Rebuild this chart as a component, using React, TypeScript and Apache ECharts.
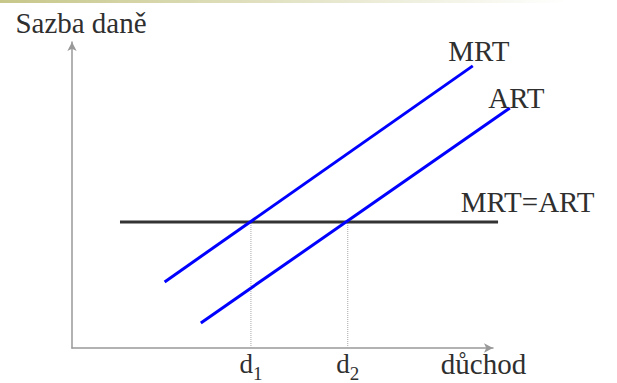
import React, { useEffect, useRef } from "react";
import * as echarts from "echarts";

// ---- data (axis units: x 0..100, y 0..100) ----
const seriesNames = ["MRT", "ART", "MRT=ART"];
const mrtData: number[][] = [
  [22.0, 21.6],
  [95.2, 92.2],
];
const artData: number[][] = [
  [30.6, 8.2],
  [104.0, 78.4],
];
const flatLevel = 41.2;
const flatRange = [11.4, 101.2];
const dValues = [42.5, 65.5];
const dTickLabels = ["d1", "d2"];
const xAxisName = "důchod";
const yAxisName = "Sazba daně";

const FONT = "'Liberation Serif', 'Times New Roman', Times, serif";
const TEXT = "#2f2f2f";

// visible axis: 0..100 over 421px; data grid extends further right on same scale
const X_MAX = 100;
const X_EXT = 110;
const PX_PER_UNIT = 421 / X_MAX;

export default function App() {
  const ref = useRef<HTMLDivElement>(null);

  useEffect(() => {
    if (!ref.current) return;
    const chart = echarts.init(ref.current, null, { renderer: "svg" });

    const lastLabel = (data: number[][], label: any) =>
      data.map((p, i) =>
        i === data.length - 1
          ? { value: p, label: { show: true, formatter: "{a}", ...label } }
          : { value: p }
      );

    const labelBase = {
      fontFamily: FONT,
      fontSize: 29,
      color: TEXT,
      position: "top",
    };

    const flatData = flatRange.map((x) => [x, flatLevel]);

    const common = {
      type: "line",
      xAxisIndex: 1,
      yAxisIndex: 1,
      silent: true,
      clip: false,
    };

    const dottedSeries = dValues.map((d, i) => ({
      ...common,
      name: "d" + i,
      data: [
        [d, 0],
        [d, flatLevel],
      ],
      showSymbol: false,
      symbol: "none",
      z: 1,
      lineStyle: { color: "#a8a8a8", width: 1, type: "dotted" },
    }));

    const extRight = 617 - (72 + PX_PER_UNIT * X_EXT);

    chart.setOption({
      animation: false,
      graphic: [
        {
          type: "rect",
          left: 0,
          top: 0,
          shape: { width: 617, height: 3 },
          style: {
            fill: new echarts.graphic.LinearGradient(0, 0, 1, 0, [
              { offset: 0, color: "#c7c78a" },
              { offset: 0.45, color: "#e2e2c4" },
              { offset: 0.92, color: "#ffffff" },
            ]),
          },
          silent: true,
        },
      ],
      grid: [
        { left: 72, right: 124, top: 42, bottom: 35, containLabel: false, outerBoundsMode: "none" },
        { left: 72, right: extRight, top: 42, bottom: 35, containLabel: false, outerBoundsMode: "none" },
      ],
      xAxis: [
        {
          type: "value",
          gridIndex: 0,
          min: 0,
          max: X_MAX,
          name: xAxisName,
          nameLocation: "end",
          nameGap: -9.5,
          nameTextStyle: {
            fontFamily: FONT,
            fontSize: 29,
            color: TEXT,
            align: "center",
            verticalAlign: "top",
            lineHeight: 32,
            padding: [0, 0, 0, 0],
          },
          axisLine: {
            show: true,
            symbol: ["none", "arrow"],
            symbolSize: [7, 9],
            lineStyle: { color: "#999999", width: 1.5 },
          },
          axisTick: { show: false },
          splitLine: { show: false },
          axisLabel: {
            show: true,
            customValues: dValues,
            margin: 5,
            padding: [0, 0, 0, 0],
            fontFamily: FONT,
            fontSize: 27,
            color: TEXT,
            formatter: (v: number) => {
              const i = dValues.indexOf(v);
              const t = i >= 0 ? dTickLabels[i] : "";
              return `{d|${t.charAt(0)}}{s|${t.slice(1)}}`;
            },
            rich: {
              d: {
                fontFamily: FONT,
                fontSize: 27,
                color: TEXT,
                lineHeight: 30,
                verticalAlign: "bottom",
                padding: [0, 0, 6, 0],
              },
              s: {
                fontFamily: FONT,
                fontSize: 19,
                color: TEXT,
                lineHeight: 20,
                verticalAlign: "bottom",
              },
            },
          },
        },
        {
          type: "value",
          gridIndex: 1,
          min: 0,
          max: X_EXT,
          show: false,
        },
      ],
      yAxis: [
        {
          type: "value",
          gridIndex: 0,
          min: 0,
          max: 100,
          name: yAxisName,
          nameLocation: "end",
          nameGap: 3,
          nameTextStyle: {
            fontFamily: FONT,
            fontSize: 29,
            color: TEXT,
            align: "center",
            verticalAlign: "bottom",
            lineHeight: 32,
            padding: [0, 0, 0, 18],
          },
          axisLine: {
            show: true,
            symbol: ["none", "arrow"],
            symbolSize: [7, 9],
            lineStyle: { color: "#999999", width: 1.5 },
          },
          axisTick: { show: false },
          splitLine: { show: false },
          axisLabel: { show: false },
        },
        {
          type: "value",
          gridIndex: 1,
          min: 0,
          max: 100,
          show: false,
        },
      ],
      series: [
        ...dottedSeries,
        {
          ...common,
          name: seriesNames[2],
          data: lastLabel(flatData, {
            ...labelBase,
            distance: 5.5,
            offset: [29.5, 0],
          }),
          showSymbol: true,
          symbolSize: 0,
          z: 2,
          lineStyle: { color: "#333333", width: 3 },
          itemStyle: { color: "#333333" },
        },
        {
          ...common,
          name: seriesNames[0],
          data: lastLabel(mrtData, {
            ...labelBase,
            distance: 0,
            offset: [6, 0],
          }),
          showSymbol: true,
          symbolSize: 0,
          z: 3,
          lineStyle: { color: "#0000ff", width: 3 },
          itemStyle: { color: "#0000ff" },
        },
        {
          ...common,
          name: seriesNames[1],
          data: lastLabel(artData, {
            ...labelBase,
            distance: 0,
            offset: [6.5, 4.5],
          }),
          showSymbol: true,
          symbolSize: 0,
          z: 3,
          lineStyle: { color: "#0000ff", width: 3 },
          itemStyle: { color: "#0000ff" },
        },
      ],
    });

    return () => chart.dispose();
  }, []);

  return (
    <div
      ref={ref}
      style={{
        position: "absolute",
        left: 0,
        top: 0,
        width: 617,
        height: 383,
        background: "#ffffff",
      }}
    />
  );
}
